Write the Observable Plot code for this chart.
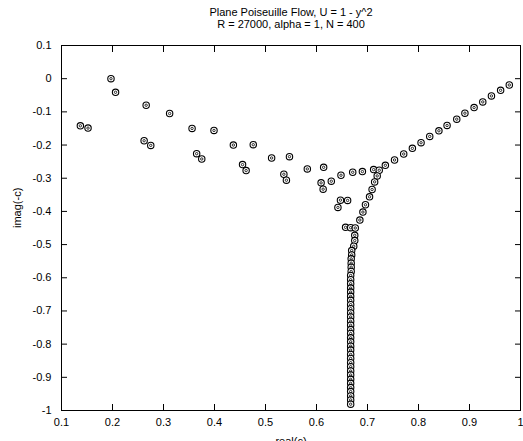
<!DOCTYPE html>
<html>
<head>
<meta charset="utf-8">
<script src="https://cdn.jsdelivr.net/npm/d3@7"></script>
<script src="https://cdn.jsdelivr.net/npm/@observablehq/plot@0.6"></script>
<style>
  html, body { margin: 0; padding: 0; background: #fff; }
  #chart svg { display: block; }
</style>
</head>
<body>
<div id="chart"></div>
<script>
const title1 = "Plane Poiseuille Flow, U = 1 - y^2";
const title2 = "R = 27000, alpha = 1, N = 400";
const xLabel = "real(c)";
const yLabel = "imag(-c)";

const xTicks = [0.1, 0.2, 0.3, 0.4, 0.5, 0.6, 0.7, 0.8, 0.9, 1];
const xTickLabels = ["0.1", "0.2", "0.3", "0.4", "0.5", "0.6", "0.7", "0.8", "0.9", "1"];
const yTicks = [0.1, 0, -0.1, -0.2, -0.3, -0.4, -0.5, -0.6, -0.7, -0.8, -0.9, -1];
const yTickLabels = ["0.1", "0", "-0.1", "-0.2", "-0.3", "-0.4", "-0.5", "-0.6", "-0.7", "-0.8", "-0.9", "-1"];

// A branch (wall modes, left arm)
const aRe = [0.197, 0.206, 0.137, 0.152, 0.266, 0.312, 0.262, 0.275, 0.356, 0.399,
             0.365, 0.375, 0.437, 0.476, 0.455, 0.462, 0.512, 0.547, 0.536, 0.541,
             0.582, 0.614, 0.609, 0.613, 0.629, 0.648, 0.671, 0.690, 0.712, 0.647,
             0.661, 0.642, 0.657, 0.667, 0.676];
const aIm = [0.000, -0.041, -0.142, -0.149, -0.080, -0.105, -0.187, -0.201, -0.150, -0.156,
             -0.226, -0.242, -0.200, -0.199, -0.259, -0.277, -0.239, -0.235, -0.288, -0.306,
             -0.272, -0.267, -0.314, -0.333, -0.309, -0.291, -0.282, -0.280, -0.274, -0.366,
             -0.367, -0.388, -0.448, -0.449, -0.450];

// P branch (centre modes, right arm)
const pRe = [0.978, 0.961, 0.943, 0.926, 0.909, 0.891, 0.875, 0.856, 0.840, 0.822,
             0.805, 0.788, 0.771, 0.753, 0.735, 0.723, 0.719, 0.714, 0.709, 0.704,
             0.696, 0.691, 0.685, 0.675, 0.675, 0.673];
const pIm = [-0.019, -0.035, -0.052, -0.070, -0.087, -0.104, -0.122, -0.141, -0.157, -0.174,
             -0.193, -0.210, -0.227, -0.245, -0.261, -0.276, -0.293, -0.311, -0.334, -0.356,
             -0.380, -0.402, -0.426, -0.472, -0.488, -0.505];

// S branch (damped modes, vertical stem)
const sRe = [0.669, 0.669, 0.668, 0.668, 0.668, 0.668, 0.667, 0.667, 0.667, 0.667,
             0.667, 0.667, 0.667, 0.667, 0.667, 0.667, 0.667, 0.667, 0.667, 0.667,
             0.667, 0.667, 0.667, 0.667, 0.667, 0.667, 0.667, 0.667, 0.667, 0.667,
             0.667, 0.667, 0.667, 0.667, 0.667, 0.667, 0.667, 0.667];
const sIm = [-0.518, -0.531, -0.543, -0.556, -0.568, -0.581, -0.593, -0.606, -0.618, -0.631,
             -0.643, -0.656, -0.668, -0.681, -0.693, -0.706, -0.718, -0.731, -0.743, -0.756,
             -0.768, -0.781, -0.793, -0.806, -0.818, -0.831, -0.843, -0.856, -0.868, -0.881,
             -0.893, -0.906, -0.918, -0.931, -0.943, -0.956, -0.968, -0.981];

const points = [
  ...aRe.map((re, i) => ({re, im: aIm[i]})),
  ...pRe.map((re, i) => ({re, im: pIm[i]})),
  ...sRe.map((re, i) => ({re, im: sIm[i]}))
];

const xFmt = (d) => xTickLabels[xTicks.indexOf(d)];
const yFmt = (d) => yTickLabels[yTicks.indexOf(d)];
const font = "Liberation Sans, Arial, sans-serif";

const chart = Plot.plot({
  width: 523,
  height: 441,
  marginLeft: 61,
  marginRight: 3,
  marginTop: 45,
  marginBottom: 31,
  style: {fontFamily: font, fontSize: "11px", color: "#000", background: "#fff"},
  x: {domain: [0.1, 1]},
  y: {domain: [-1, 0.1]},
  marks: [
    Plot.frame({stroke: "#000", strokeWidth: 1}),
    // labels
    Plot.axisX(xTicks, {anchor: "bottom", tickSize: 0, tickPadding: 8, tickFormat: xFmt, label: null, fontSize: 11}),
    Plot.axisY(yTicks, {anchor: "left", tickSize: 0, tickPadding: 10, tickFormat: yFmt, label: null, fontSize: 11}),
    // inward ticks on all four sides
    Plot.axisX(xTicks, {anchor: "bottom", tickSize: -6, tickFormat: () => "", label: null}),
    Plot.axisX(xTicks, {anchor: "top", tickSize: -6, tickFormat: () => "", label: null}),
    Plot.axisY(yTicks, {anchor: "left", tickSize: -6, tickFormat: () => "", label: null}),
    Plot.axisY(yTicks, {anchor: "right", tickSize: -6, tickFormat: () => "", label: null}),
    // points
    Plot.dot(points, {x: "re", y: "im", r: 3.2, stroke: "#000", strokeWidth: 1.1, fill: "#fff"}),
    Plot.dot(points, {x: "re", y: "im", r: 1.2, stroke: "#000", strokeWidth: 0.8, fill: "none"}),
    // titles
    Plot.text([title1], {frameAnchor: "top", dy: -33, fontSize: 11, lineAnchor: "middle"}),
    Plot.text([title2], {frameAnchor: "top", dy: -21, fontSize: 11, lineAnchor: "middle"}),
    Plot.text([yLabel], {frameAnchor: "left", dx: -44, rotate: -90, fontSize: 11, lineAnchor: "middle"}),
    Plot.text([xLabel], {frameAnchor: "bottom", dy: 27, fontSize: 11, lineAnchor: "top"})
  ]
});

document.getElementById("chart").appendChild(chart);
</script>
</body>
</html>
